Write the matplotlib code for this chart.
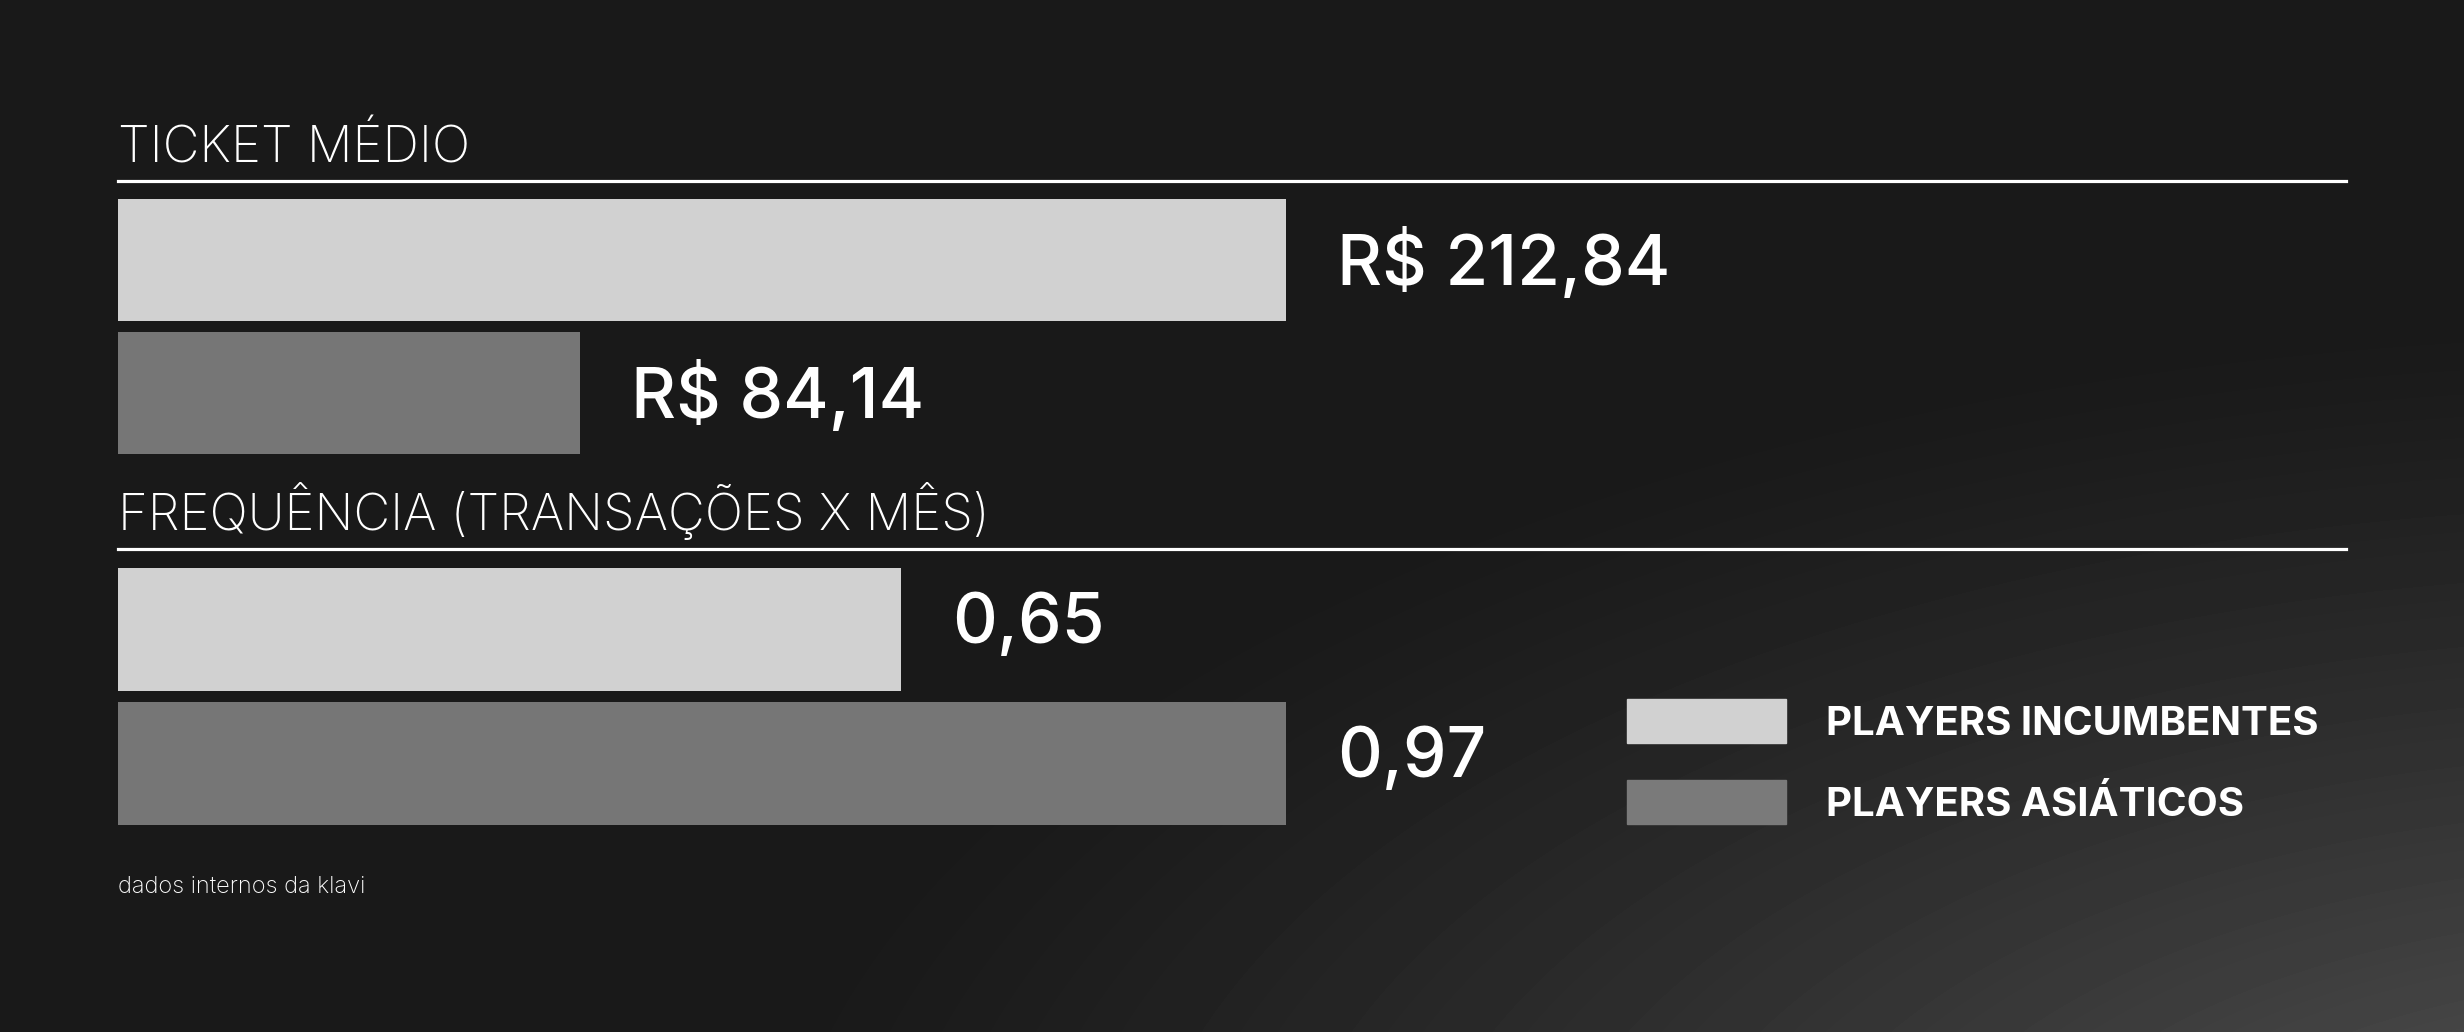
import numpy as np
import matplotlib
matplotlib.use("Agg")
import matplotlib.pyplot as plt
from matplotlib.patches import Rectangle

plt.rcParams['font.family'] = ['Inter', 'DejaVu Sans']

# dados
grupos = ["PLAYERS INCUMBENTES", "PLAYERS ASIÁTICOS"]
ticket_medio = [212.84, 84.14]
ticket_labels = ["R$ 212,84", "R$ 84,14"]
frequencia = [0.65, 0.97]
frequencia_labels = ["0,65", "0,97"]
titulos = ["TICKET MÉDIO", "FREQUÊNCIA (TRANSAÇÕES X MÊS)"]
fonte = "dados internos da klavi"

cores = ["#d1d1d1", "#767676"]
W, H = 2464, 1032

fig = plt.figure(figsize=(W / 100, H / 100), dpi=100)
fig.patch.set_facecolor("#191919")

# fundo com brilho no canto inferior direito
bg = fig.add_axes([0, 0, 1, 1], zorder=-10)
yy, xx = np.mgrid[0:H, 0:W]
d = np.sqrt(((xx - 2700) / 2000.0) ** 2 + ((yy - 1250) / 950.0) ** 2)
val = 25 + 65 * np.clip(1 - d, 0, 1) ** 1.3
bg.imshow(val, cmap="gray", vmin=0, vmax=255, aspect="auto",
          extent=[0, W, H, 0])
bg.set_axis_off()


def px_axes(left, top, right, bottom):
    return fig.add_axes([left / W, 1 - bottom / H, (right - left) / W, (bottom - top) / H])


def painel(ax, valores, labels, dy=0, vmax_px=1168):
    ax.set_facecolor("none")
    ax.barh(range(len(valores)), valores, height=0.917, color=cores)
    ax.set_ylim(1.5, -0.6)
    ax.set_xlim(0, max(valores) * (2228 / vmax_px))
    for s in ["left", "right", "bottom"]:
        ax.spines[s].set_visible(False)
    ax.spines["top"].set_color("white")
    ax.spines["top"].set_linewidth(2.3)
    ax.set_xticks([])
    ax.set_yticks([])
    for i, (v, lab) in enumerate(zip(valores, labels)):
        ax.annotate(lab, (v, i), xytext=(37, -18 + dy), textcoords="offset points",
                    va="baseline", ha="left", color="white",
                    fontsize=50, fontweight="medium")


ax1 = px_axes(118, 180.5, 2346, 459.5)
painel(ax1, ticket_medio, ticket_labels)

ax2 = px_axes(118, 548.5, 2346, 830.5)
painel(ax2, frequencia, frequencia_labels, dy=8)

# titulos das secoes
fig.text(118 / W, 1 - 162 / H, titulos[0], color="white", fontsize=36.5,
         fontweight="light", va="baseline", ha="left")
fig.text(118 / W, 1 - 530 / H, titulos[1], color="white", fontsize=36.5,
         fontweight="light", va="baseline", ha="left")

# legenda
for k, nome in enumerate(grupos):
    top = 699 + k * 81
    fig.add_artist(Rectangle((1627 / W, 1 - (top + 44) / H), 159 / W, 44 / H,
                             transform=fig.transFigure, color=cores[k] if k == 0 else "#7a7a7a"))
    fig.text(1826 / W, 1 - (top + 22 + 14) / H, nome, color="white", fontsize=29,
             fontweight="bold", va="baseline", ha="left")

fig.text(118 / W, 1 - 893 / H, fonte, color="white", fontsize=17,
         fontweight="light", va="baseline", ha="left")

fig.savefig("out.png", dpi=100, facecolor=fig.get_facecolor())
